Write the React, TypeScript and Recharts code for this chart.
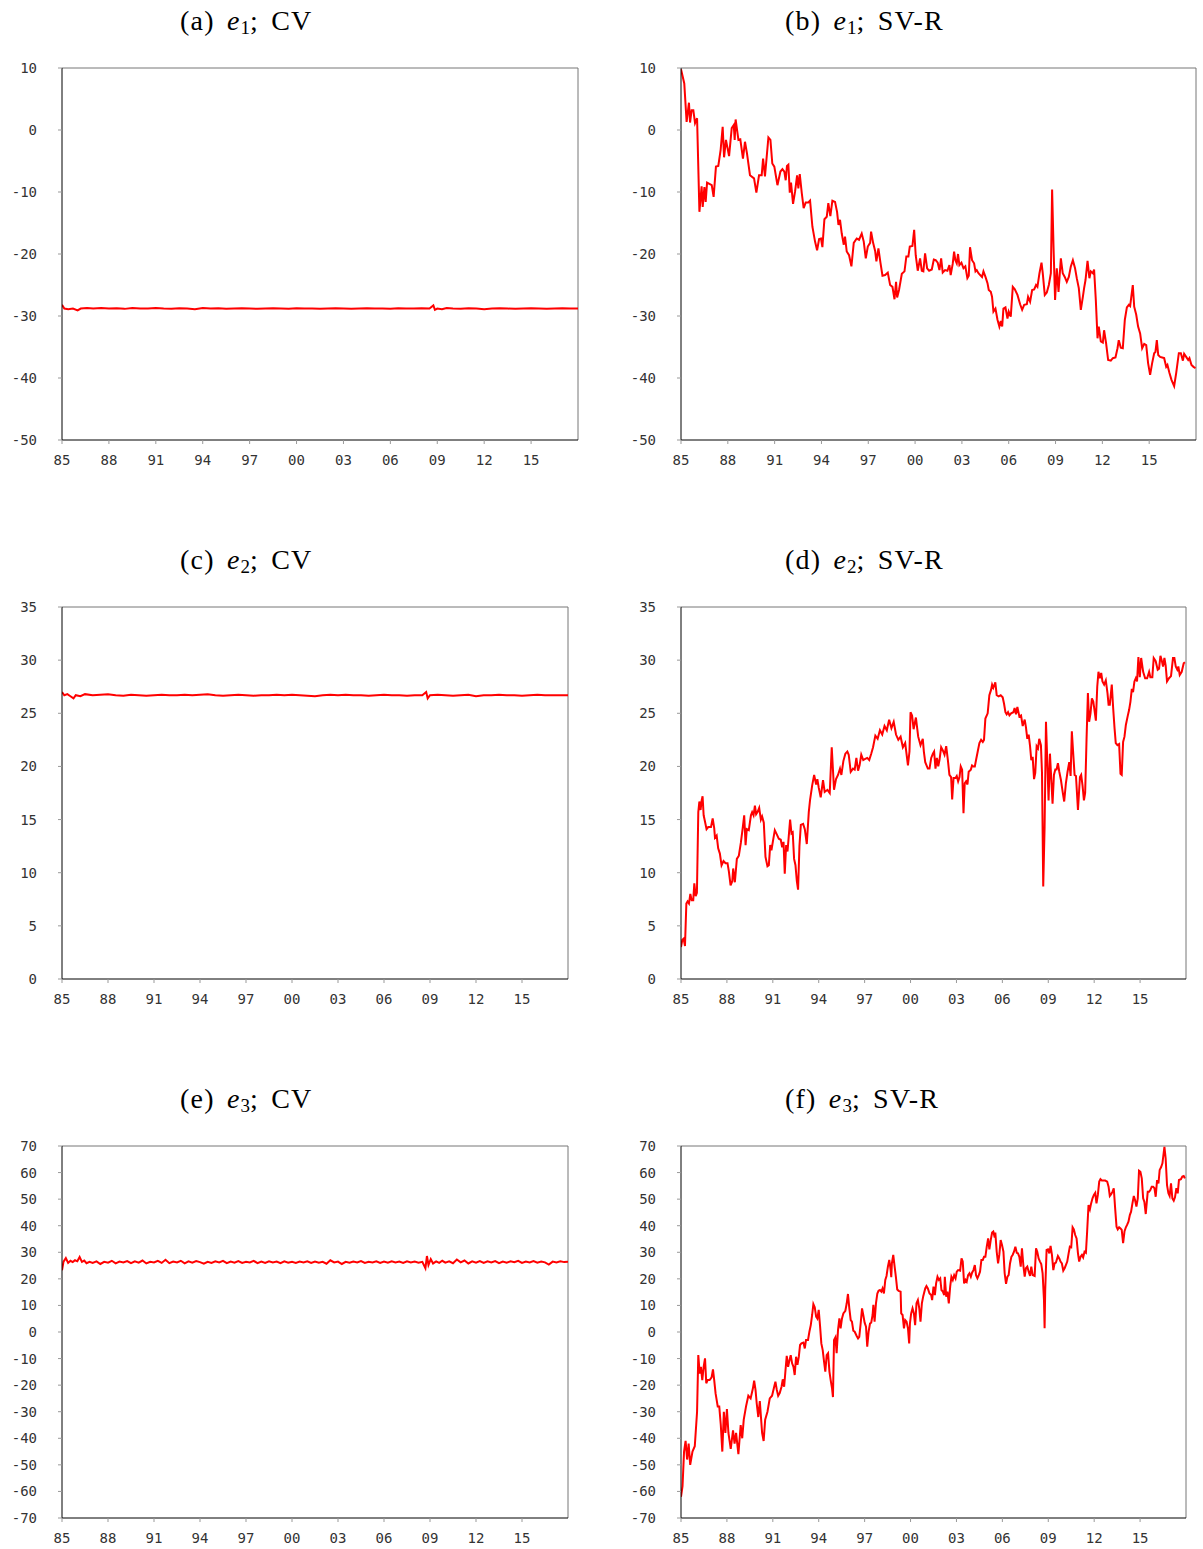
import { LineChart, Line, XAxis, YAxis, ReferenceLine } from "recharts";

const yearTicks = [1985, 1988, 1991, 1994, 1997, 2000, 2003, 2006, 2009, 2012, 2015];
const e1Ticks = [-50, -40, -30, -20, -10, 0, 10];
const e2Ticks = [0, 5, 10, 15, 20, 25, 30, 35];
const e3Ticks = [-70, -60, -50, -40, -30, -20, -10, 0, 10, 20, 30, 40, 50, 60, 70];

// [year, value]
const e1Cv: [number, number][] = [
  [1985.0, -28.2], [1985.15, -28.8], [1985.4, -28.9], [1985.7, -28.8], [1986.0, -29.1], [1986.2, -28.8],
  [1986.6, -28.7], [1987.0, -28.8], [1987.5, -28.7], [1988.0, -28.8], [1988.5, -28.75], [1989.0, -28.85],
  [1989.5, -28.7], [1990.0, -28.8], [1990.5, -28.8], [1991.0, -28.7], [1991.5, -28.8], [1992.0, -28.85],
  [1992.5, -28.75], [1993.0, -28.8], [1993.5, -28.9], [1994.0, -28.7], [1994.5, -28.8], [1995.0, -28.75],
  [1995.5, -28.85], [1996.0, -28.8], [1996.5, -28.75], [1997.0, -28.8], [1997.5, -28.85], [1998.0, -28.8],
  [1998.5, -28.75], [1999.0, -28.8], [1999.5, -28.85], [2000.0, -28.75], [2000.5, -28.8], [2001.0, -28.8],
  [2001.5, -28.85], [2002.0, -28.8], [2002.5, -28.75], [2003.0, -28.8], [2003.5, -28.85], [2004.0, -28.8],
  [2004.5, -28.75], [2005.0, -28.8], [2005.5, -28.8], [2006.0, -28.85], [2006.5, -28.75], [2007.0, -28.8],
  [2007.5, -28.8], [2008.0, -28.75], [2008.5, -28.8], [2008.75, -28.3], [2008.85, -29.0], [2009.0, -28.8],
  [2009.3, -28.9], [2009.6, -28.7], [2010.0, -28.8], [2010.5, -28.85], [2011.0, -28.75], [2011.5, -28.8],
  [2012.0, -28.9], [2012.5, -28.8], [2013.0, -28.75], [2013.5, -28.8], [2014.0, -28.85], [2014.5, -28.8],
  [2015.0, -28.75], [2015.5, -28.8], [2016.0, -28.85], [2016.5, -28.8], [2017.0, -28.75], [2017.5, -28.8],
  [2018.0, -28.8],
];

const e1Svr: [number, number][] = [
  [1985.0, 9.8], [1985.21, 7.5], [1985.36, 1.3], [1985.51, 4.4], [1985.58, 1.2], [1985.68, 3.2], [1985.79, 3.2],
  [1985.9, 1.1], [1986.03, 1.9], [1986.18, -13.2], [1986.32, -9.1], [1986.39, -12.4], [1986.5, -9.2],
  [1986.58, -11.6], [1986.67, -8.5], [1986.97, -8.9], [1987.09, -10.8], [1987.24, -5.9], [1987.39, -5.8],
  [1987.54, -3.2], [1987.67, 0.5], [1987.76, -4.4], [1987.88, -1.6], [1988.08, -4.2], [1988.25, 0.3],
  [1988.38, 0.8], [1988.44, -1.6], [1988.5, 1.7], [1988.68, -1.6], [1988.8, -1.5], [1988.97, -4.6],
  [1989.1, -1.9], [1989.23, -3.8], [1989.42, -7.3], [1989.68, -7.8], [1989.83, -10.1], [1990.0, -7.3],
  [1990.17, -7.3], [1990.26, -4.6], [1990.38, -7.5], [1990.6, -1.2], [1990.73, -1.6], [1990.85, -5.4],
  [1990.98, -5.9], [1991.18, -8.9], [1991.37, -6.7], [1991.5, -6.3], [1991.62, -6.7], [1991.71, -8.1],
  [1991.79, -5.8], [1991.88, -5.6], [1991.97, -10.1], [1992.05, -8.5], [1992.18, -11.9], [1992.31, -9.9],
  [1992.44, -7.3], [1992.52, -9.4], [1992.61, -7.1], [1992.74, -10.2], [1992.86, -12.6], [1992.99, -11.7],
  [1993.16, -11.7], [1993.27, -11.4], [1993.42, -15.6], [1993.59, -18.0], [1993.72, -19.4], [1993.85, -17.6],
  [1993.97, -17.5], [1994.06, -18.9], [1994.19, -14.4], [1994.34, -14.0], [1994.44, -11.8], [1994.57, -13.9],
  [1994.7, -11.4], [1994.87, -11.6], [1995.0, -13.2], [1995.09, -15.3], [1995.19, -14.5], [1995.3, -16.7],
  [1995.43, -18.5], [1995.51, -17.2], [1995.62, -19.6], [1995.77, -20.2], [1995.92, -22.0], [1996.07, -18.2],
  [1996.26, -17.5], [1996.41, -17.7], [1996.58, -16.7], [1996.71, -18.0], [1996.84, -20.7], [1996.97, -18.8],
  [1997.12, -18.2], [1997.18, -16.4], [1997.31, -18.2], [1997.44, -19.5], [1997.52, -21.2], [1997.65, -19.1],
  [1997.78, -21.4], [1997.91, -23.5], [1998.08, -23.4], [1998.25, -23.0], [1998.4, -25.0], [1998.55, -25.3],
  [1998.68, -27.3], [1998.78, -24.5], [1998.85, -27.0], [1998.97, -25.8], [1999.15, -23.2], [1999.32, -22.8],
  [1999.44, -20.4], [1999.57, -20.4], [1999.66, -18.8], [1999.83, -18.7], [1999.94, -16.1], [2000.04, -20.2],
  [2000.17, -22.7], [2000.32, -20.7], [2000.43, -22.7], [2000.53, -22.8], [2000.64, -19.9], [2000.77, -22.3],
  [2000.9, -22.7], [2001.07, -22.5], [2001.2, -20.9], [2001.32, -21.0], [2001.45, -21.4], [2001.56, -22.6],
  [2001.67, -20.7], [2001.77, -23.0], [2001.92, -22.6], [2002.07, -22.7], [2002.2, -21.8], [2002.28, -23.4],
  [2002.41, -21.6], [2002.5, -19.6], [2002.58, -21.0], [2002.67, -21.5], [2002.75, -20.0], [2002.84, -21.8],
  [2002.97, -21.4], [2003.1, -22.3], [2003.22, -22.0], [2003.35, -23.9], [2003.44, -23.5], [2003.52, -18.9],
  [2003.65, -21.0], [2003.78, -21.5], [2003.87, -22.8], [2003.95, -22.6], [2004.06, -23.1], [2004.17, -23.4],
  [2004.29, -23.7], [2004.38, -22.8], [2004.51, -23.7], [2004.64, -24.7], [2004.72, -25.8], [2004.85, -26.1],
  [2004.93, -26.9], [2005.02, -29.3], [2005.15, -28.8], [2005.28, -30.6], [2005.4, -31.7], [2005.49, -30.8],
  [2005.58, -31.7], [2005.66, -28.8], [2005.79, -28.6], [2005.92, -30.4], [2006.0, -29.3], [2006.13, -30.1],
  [2006.26, -25.3], [2006.39, -25.7], [2006.56, -26.6], [2006.73, -28.1], [2006.86, -29.0], [2006.99, -28.2],
  [2007.16, -28.1], [2007.24, -26.9], [2007.37, -27.7], [2007.5, -25.8], [2007.63, -25.7], [2007.75, -25.0],
  [2007.84, -25.3], [2007.97, -23.1], [2008.1, -21.4], [2008.18, -23.1], [2008.31, -26.6], [2008.44, -26.2],
  [2008.57, -25.0], [2008.7, -23.1], [2008.78, -9.6], [2008.87, -18.8], [2008.97, -27.4], [2009.08, -22.3],
  [2009.19, -26.1], [2009.34, -20.7], [2009.46, -23.1], [2009.59, -23.7], [2009.72, -24.5], [2009.85, -23.7],
  [2009.98, -22.0], [2010.11, -21.0], [2010.25, -22.3], [2010.36, -23.9], [2010.49, -25.5], [2010.62, -29.0],
  [2010.75, -26.9], [2010.83, -25.5], [2010.92, -24.2], [2011.05, -21.1], [2011.17, -23.9], [2011.26, -22.8],
  [2011.39, -23.1], [2011.47, -22.5], [2011.58, -27.4], [2011.69, -33.6], [2011.77, -31.7], [2011.9, -34.1],
  [2012.03, -34.3], [2012.11, -32.3], [2012.24, -34.4], [2012.37, -37.1], [2012.54, -37.2], [2012.67, -36.8],
  [2012.84, -36.7], [2012.97, -35.2], [2013.05, -33.9], [2013.18, -35.1], [2013.31, -35.2], [2013.44, -30.6],
  [2013.57, -28.6], [2013.7, -28.2], [2013.78, -28.4], [2013.87, -26.6], [2013.95, -25.0], [2014.04, -28.5],
  [2014.17, -29.8], [2014.29, -31.7], [2014.42, -32.8], [2014.55, -35.2], [2014.68, -34.5], [2014.81, -34.7],
  [2014.93, -37.6], [2015.06, -39.5], [2015.19, -37.6], [2015.32, -36.0], [2015.4, -35.8], [2015.49, -33.9],
  [2015.58, -36.3], [2015.7, -36.6], [2015.83, -36.7], [2015.96, -36.8], [2016.09, -38.2], [2016.17, -37.9],
  [2016.3, -39.2], [2016.43, -40.3], [2016.6, -41.3], [2016.73, -39.2], [2016.9, -36.0], [2017.03, -36.0],
  [2017.16, -37.2], [2017.24, -36.1], [2017.37, -36.6], [2017.5, -37.1], [2017.58, -36.8], [2017.71, -37.9],
  [2017.84, -38.2], [2017.97, -38.4],
];

const e2Cv: [number, number][] = [
  [1985.0, 27.0], [1985.15, 26.7], [1985.35, 26.8], [1985.55, 26.6], [1985.75, 26.4], [1985.9, 26.7],
  [1986.2, 26.6], [1986.5, 26.8], [1987.0, 26.7], [1987.5, 26.75], [1988.0, 26.8], [1988.5, 26.7],
  [1989.0, 26.65], [1989.5, 26.75], [1990.0, 26.7], [1990.5, 26.65], [1991.0, 26.7], [1991.5, 26.75],
  [1992.0, 26.7], [1992.5, 26.7], [1993.0, 26.75], [1993.5, 26.7], [1994.0, 26.75], [1994.5, 26.8],
  [1995.0, 26.7], [1995.5, 26.65], [1996.0, 26.7], [1996.5, 26.75], [1997.0, 26.7], [1997.5, 26.65],
  [1998.0, 26.7], [1998.5, 26.7], [1999.0, 26.75], [1999.5, 26.7], [2000.0, 26.75], [2000.5, 26.7],
  [2001.0, 26.65], [2001.5, 26.6], [2002.0, 26.7], [2002.5, 26.75], [2003.0, 26.7], [2003.5, 26.75],
  [2004.0, 26.7], [2004.5, 26.7], [2005.0, 26.65], [2005.5, 26.7], [2006.0, 26.75], [2006.5, 26.7],
  [2007.0, 26.7], [2007.5, 26.65], [2008.0, 26.7], [2008.5, 26.7], [2008.75, 27.0], [2008.85, 26.4],
  [2009.0, 26.7], [2009.5, 26.75], [2010.0, 26.7], [2010.5, 26.65], [2011.0, 26.7], [2011.5, 26.75],
  [2012.0, 26.6], [2012.5, 26.7], [2013.0, 26.7], [2013.5, 26.75], [2014.0, 26.7], [2014.5, 26.7],
  [2015.0, 26.65], [2015.5, 26.7], [2016.0, 26.75], [2016.5, 26.7], [2017.0, 26.7], [2017.5, 26.7],
  [2018.0, 26.7],
];

const e2Svr: [number, number][] = [
  [1985.0, 3.0], [1985.09, 3.7], [1985.17, 3.8], [1985.26, 3.1], [1985.35, 7.1], [1985.43, 7.3], [1985.52, 7.1],
  [1985.61, 8.0], [1985.7, 7.4], [1985.8, 7.4], [1985.87, 9.0], [1985.96, 7.8], [1986.04, 8.1], [1986.13, 15.7],
  [1986.2, 16.7], [1986.28, 15.9], [1986.35, 16.8], [1986.41, 17.2], [1986.48, 15.4], [1986.57, 14.8],
  [1986.67, 14.1], [1986.78, 14.3], [1986.96, 14.3], [1987.07, 15.1], [1987.17, 14.2], [1987.22, 13.3],
  [1987.33, 13.5], [1987.43, 12.3], [1987.54, 11.8], [1987.65, 10.7], [1987.78, 11.1], [1987.91, 10.9],
  [1988.04, 10.9], [1988.13, 10.1], [1988.24, 8.8], [1988.35, 9.2], [1988.41, 10.4], [1988.52, 9.1],
  [1988.65, 11.3], [1988.78, 11.6], [1988.91, 12.8], [1989.04, 14.3], [1989.13, 15.4], [1989.22, 12.6],
  [1989.3, 14.1], [1989.43, 14.0], [1989.57, 15.4], [1989.65, 15.7], [1989.74, 15.4], [1989.83, 16.3],
  [1989.91, 15.5], [1990.0, 15.7], [1990.11, 16.1], [1990.22, 15.0], [1990.3, 15.3], [1990.41, 14.7],
  [1990.52, 11.5], [1990.65, 10.6], [1990.74, 10.7], [1990.83, 12.6], [1990.91, 12.1], [1991.0, 12.9],
  [1991.13, 14.0], [1991.26, 13.6], [1991.39, 13.2], [1991.52, 13.1], [1991.61, 12.4], [1991.7, 12.9],
  [1991.78, 9.9], [1991.87, 12.6], [1991.96, 12.0], [1992.04, 13.4], [1992.13, 15.0], [1992.22, 13.7],
  [1992.3, 13.8], [1992.39, 11.3], [1992.48, 10.7], [1992.57, 9.2], [1992.65, 8.4], [1992.74, 12.5],
  [1992.83, 14.5], [1992.98, 14.6], [1993.09, 14.1], [1993.22, 12.7], [1993.35, 15.7], [1993.43, 16.8],
  [1993.57, 18.2], [1993.7, 19.2], [1993.83, 18.3], [1993.91, 18.8], [1994.0, 18.0], [1994.13, 17.1],
  [1994.28, 18.7], [1994.39, 17.6], [1994.57, 17.8], [1994.72, 17.5], [1994.85, 21.8], [1995.0, 17.8],
  [1995.13, 18.8], [1995.26, 19.2], [1995.39, 19.8], [1995.48, 19.2], [1995.61, 20.5], [1995.74, 21.2],
  [1995.87, 21.4], [1995.96, 21.1], [1996.09, 19.5], [1996.24, 19.8], [1996.35, 19.7], [1996.46, 20.8],
  [1996.57, 19.6], [1996.67, 20.1], [1996.78, 21.1], [1996.91, 20.6], [1997.04, 20.7], [1997.17, 20.8],
  [1997.3, 20.6], [1997.43, 21.2], [1997.55, 21.8], [1997.7, 22.9], [1997.85, 22.6], [1998.0, 23.4],
  [1998.15, 23.0], [1998.3, 23.8], [1998.45, 23.4], [1998.6, 24.4], [1998.75, 23.6], [1998.9, 24.2],
  [1999.05, 23.0], [1999.2, 22.5], [1999.35, 22.8], [1999.5, 21.8], [1999.65, 22.2], [1999.83, 20.1],
  [1999.93, 21.4], [2000.0, 25.1], [2000.1, 24.8], [2000.2, 23.5], [2000.35, 24.6], [2000.5, 22.8],
  [2000.65, 22.0], [2000.8, 22.6], [2000.87, 21.4], [2000.96, 20.4], [2001.13, 19.8], [2001.24, 19.8],
  [2001.35, 20.8], [2001.46, 21.2], [2001.54, 21.4], [2001.63, 19.8], [2001.72, 20.8], [2001.81, 20.0],
  [2001.89, 20.6], [2002.0, 21.8], [2002.11, 21.5], [2002.22, 21.1], [2002.33, 21.9], [2002.44, 20.6],
  [2002.54, 19.2], [2002.65, 19.0], [2002.72, 16.9], [2002.81, 18.9], [2002.94, 18.9], [2003.02, 19.1],
  [2003.11, 18.6], [2003.2, 19.0], [2003.28, 20.0], [2003.37, 19.7], [2003.46, 15.6], [2003.54, 18.4],
  [2003.63, 18.6], [2003.72, 18.3], [2003.8, 19.5], [2003.94, 19.7], [2004.02, 20.1], [2004.11, 20.0],
  [2004.2, 20.0], [2004.28, 20.6], [2004.39, 21.4], [2004.5, 22.2], [2004.61, 22.5], [2004.72, 22.3],
  [2004.8, 22.5], [2004.89, 24.5], [2005.04, 25.0], [2005.15, 26.7], [2005.26, 27.2], [2005.33, 27.7],
  [2005.41, 27.4], [2005.54, 27.9], [2005.63, 26.7], [2005.76, 26.6], [2005.89, 26.7], [2006.02, 26.5],
  [2006.11, 25.9], [2006.2, 25.1], [2006.28, 24.9], [2006.37, 25.1], [2006.46, 24.8], [2006.57, 25.0],
  [2006.72, 25.1], [2006.8, 25.5], [2006.89, 24.9], [2006.98, 25.6], [2007.11, 24.7], [2007.22, 24.8],
  [2007.33, 23.8], [2007.46, 24.4], [2007.54, 23.7], [2007.63, 22.6], [2007.72, 23.0], [2007.81, 21.9],
  [2007.89, 20.6], [2007.98, 20.9], [2008.07, 18.8], [2008.15, 19.4], [2008.24, 21.9], [2008.33, 21.7],
  [2008.41, 22.6], [2008.52, 22.0], [2008.59, 19.4], [2008.67, 8.7], [2008.76, 14.3], [2008.85, 24.2],
  [2008.96, 19.4], [2009.02, 16.8], [2009.11, 21.2], [2009.2, 18.7], [2009.28, 16.5], [2009.37, 19.2],
  [2009.46, 19.7], [2009.54, 19.7], [2009.63, 20.3], [2009.72, 19.5], [2009.83, 18.7], [2009.94, 17.6],
  [2010.04, 16.7], [2010.15, 18.4], [2010.26, 19.5], [2010.37, 20.4], [2010.46, 19.1], [2010.54, 23.3],
  [2010.63, 21.2], [2010.72, 19.2], [2010.81, 19.1], [2010.94, 15.9], [2011.07, 19.0], [2011.15, 19.2],
  [2011.24, 18.2], [2011.33, 16.8], [2011.41, 17.5], [2011.5, 22.5], [2011.59, 26.9], [2011.67, 24.2],
  [2011.76, 25.0], [2011.85, 26.4], [2011.94, 26.1], [2012.02, 25.3], [2012.11, 24.3], [2012.2, 27.5],
  [2012.28, 28.9], [2012.37, 28.3], [2012.46, 28.8], [2012.54, 28.0], [2012.65, 27.7], [2012.76, 28.1],
  [2012.87, 26.9], [2012.94, 25.8], [2013.02, 25.8], [2013.15, 27.7], [2013.24, 25.5], [2013.33, 23.6],
  [2013.41, 22.2], [2013.52, 22.0], [2013.63, 22.1], [2013.72, 19.3], [2013.8, 19.2], [2013.89, 22.3],
  [2013.98, 22.8], [2014.07, 23.9], [2014.2, 24.8], [2014.28, 25.3], [2014.37, 26.1], [2014.46, 27.3],
  [2014.54, 27.0], [2014.63, 28.0], [2014.72, 28.3], [2014.8, 28.0], [2014.89, 30.3], [2014.98, 28.4],
  [2015.07, 30.2], [2015.2, 28.9], [2015.33, 28.3], [2015.46, 28.3], [2015.59, 28.9], [2015.67, 28.4],
  [2015.8, 28.4], [2015.89, 30.2], [2016.02, 29.9], [2016.15, 29.1], [2016.24, 29.2], [2016.33, 30.4],
  [2016.41, 30.0], [2016.5, 29.4], [2016.59, 30.2], [2016.67, 29.5], [2016.76, 28.0], [2016.89, 28.3],
  [2017.02, 28.5], [2017.15, 30.2], [2017.24, 30.2], [2017.33, 29.4], [2017.43, 29.1], [2017.5, 29.4],
  [2017.59, 28.6], [2017.72, 28.9], [2017.85, 29.7], [2017.93, 29.8],
];

const e3Cv: [number, number][] = [
  [1985.0, 23.2], [1985.1, 26.5], [1985.25, 27.8], [1985.4, 26.0], [1985.55, 26.8], [1985.7, 26.3],
  [1985.85, 27.0], [1986.0, 26.6], [1986.15, 28.2], [1986.3, 26.4], [1986.45, 26.9], [1986.6, 25.9],
  [1986.8, 26.4], [1987.0, 26.0], [1987.25, 26.6], [1987.5, 25.6], [1987.75, 26.4], [1988.0, 26.1],
  [1988.25, 26.8], [1988.5, 25.8], [1988.75, 26.5], [1989.0, 26.2], [1989.25, 26.7], [1989.5, 25.9],
  [1989.75, 26.6], [1990.0, 26.1], [1990.25, 26.9], [1990.5, 25.8], [1990.75, 26.4], [1991.0, 26.2],
  [1991.25, 26.8], [1991.5, 26.0], [1991.75, 27.2], [1992.0, 25.9], [1992.25, 26.5], [1992.5, 26.2],
  [1992.75, 26.8], [1993.0, 25.8], [1993.25, 26.6], [1993.5, 26.1], [1993.75, 26.7], [1994.0, 26.3],
  [1994.25, 25.7], [1994.5, 26.4], [1994.75, 26.0], [1995.0, 26.6], [1995.25, 26.2], [1995.5, 26.8],
  [1995.75, 25.9], [1996.0, 26.5], [1996.25, 26.1], [1996.5, 26.7], [1996.75, 26.0], [1997.0, 26.4],
  [1997.25, 26.2], [1997.5, 26.8], [1997.75, 25.9], [1998.0, 26.5], [1998.25, 26.0], [1998.5, 26.6],
  [1998.75, 26.2], [1999.0, 26.5], [1999.25, 25.9], [1999.5, 26.6], [1999.75, 26.1], [2000.0, 26.4],
  [2000.25, 26.0], [2000.5, 26.5], [2000.75, 26.2], [2001.0, 26.6], [2001.25, 26.0], [2001.5, 26.5],
  [2001.75, 26.1], [2002.0, 26.4], [2002.25, 25.7], [2002.5, 27.0], [2002.75, 26.2], [2003.0, 26.5],
  [2003.25, 25.6], [2003.5, 26.4], [2003.75, 26.1], [2004.0, 26.5], [2004.25, 26.2], [2004.5, 26.7],
  [2004.75, 26.0], [2005.0, 26.4], [2005.25, 26.2], [2005.5, 26.6], [2005.75, 26.0], [2006.0, 26.5],
  [2006.25, 26.1], [2006.5, 26.6], [2006.75, 26.2], [2007.0, 26.5], [2007.25, 26.0], [2007.5, 26.6],
  [2007.75, 26.2], [2008.0, 26.5], [2008.25, 26.1], [2008.5, 26.4], [2008.7, 24.0], [2008.8, 28.6],
  [2008.9, 25.2], [2009.05, 27.4], [2009.2, 25.8], [2009.4, 26.6], [2009.6, 26.0], [2009.8, 26.8],
  [2010.0, 26.1], [2010.25, 26.6], [2010.5, 25.9], [2010.75, 27.3], [2011.0, 26.2], [2011.25, 26.9],
  [2011.5, 25.8], [2011.75, 26.6], [2012.0, 26.1], [2012.25, 26.7], [2012.5, 26.0], [2012.75, 26.6],
  [2013.0, 26.2], [2013.25, 26.7], [2013.5, 25.9], [2013.75, 26.5], [2014.0, 26.1], [2014.25, 26.6],
  [2014.5, 26.3], [2014.75, 26.8], [2015.0, 26.0], [2015.25, 26.5], [2015.5, 26.2], [2015.75, 26.7],
  [2016.0, 26.1], [2016.25, 26.5], [2016.5, 26.2], [2016.75, 25.4], [2017.0, 26.5], [2017.25, 26.2],
  [2017.5, 26.6], [2017.75, 26.3], [2018.0, 26.4],
];

const e3Svr: [number, number][] = [
  [1985.0, -62.0], [1985.1, -58.0], [1985.2, -45.0], [1985.3, -41.0], [1985.4, -48.0], [1985.5, -42.0],
  [1985.6, -50.0], [1985.75, -45.0], [1985.9, -43.0], [1986.05, -30.0], [1986.13, -8.7], [1986.22, -15.6],
  [1986.3, -13.1], [1986.39, -18.1], [1986.48, -13.1], [1986.57, -9.9], [1986.65, -19.3], [1986.74, -18.1],
  [1986.87, -18.1], [1987.0, -17.1], [1987.09, -14.1], [1987.17, -18.1], [1987.26, -23.1], [1987.4, -28.0],
  [1987.5, -28.0], [1987.6, -35.0], [1987.7, -45.0], [1987.8, -30.0], [1987.9, -38.0], [1988.0, -29.0],
  [1988.1, -38.0], [1988.25, -44.0], [1988.4, -37.0], [1988.5, -42.0], [1988.6, -38.0], [1988.75, -46.0],
  [1988.9, -35.0], [1989.0, -40.0], [1989.1, -33.0], [1989.25, -28.0], [1989.4, -24.0], [1989.55, -25.0],
  [1989.7, -21.2], [1989.78, -18.3], [1989.87, -21.8], [1989.95, -27.0], [1990.05, -32.0], [1990.15, -26.0],
  [1990.3, -38.0], [1990.4, -41.0], [1990.5, -33.0], [1990.65, -30.0], [1990.8, -25.0], [1990.95, -24.0],
  [1991.09, -20.6], [1991.17, -18.7], [1991.26, -21.8], [1991.35, -24.0], [1991.45, -23.0], [1991.57, -20.6],
  [1991.65, -17.8], [1991.74, -20.6], [1991.83, -14.3], [1991.91, -9.0], [1992.0, -13.1], [1992.09, -10.6],
  [1992.17, -8.7], [1992.26, -11.8], [1992.35, -13.1], [1992.43, -16.2], [1992.52, -9.3], [1992.61, -12.4],
  [1992.7, -9.3], [1992.78, -4.9], [1992.87, -4.3], [1993.0, -4.0], [1993.09, -6.2], [1993.17, -3.0],
  [1993.3, -3.0], [1993.39, 0.1], [1993.48, 2.6], [1993.57, 6.4], [1993.65, 10.5], [1993.74, 9.3],
  [1993.83, 5.8], [1993.91, 5.1], [1994.0, 8.3], [1994.09, 2.0], [1994.17, -4.3], [1994.26, -6.8],
  [1994.35, -11.2], [1994.43, -14.9], [1994.52, -8.7], [1994.61, -8.0], [1994.7, -14.9], [1994.78, -18.1],
  [1994.87, -21.2], [1994.93, -24.5], [1995.0, -3.0], [1995.09, -2.0], [1995.17, -8.0], [1995.26, 0.7],
  [1995.35, 5.1], [1995.43, 1.4], [1995.52, 5.1], [1995.61, 7.0], [1995.74, 8.0], [1995.83, 10.8],
  [1995.91, 14.3], [1996.0, 8.9], [1996.09, 4.5], [1996.17, 3.9], [1996.26, 0.5], [1996.35, 0.1],
  [1996.48, -1.5], [1996.57, -2.4], [1996.65, -1.8], [1996.74, 3.2], [1996.83, 8.9], [1996.91, 6.4],
  [1997.0, 3.5], [1997.09, 2.0], [1997.17, -5.5], [1997.26, 0.1], [1997.35, 3.2], [1997.43, 3.5],
  [1997.52, 6.4], [1997.57, 10.2], [1997.65, 3.9], [1997.74, 10.8], [1997.83, 14.5], [1997.91, 15.5],
  [1998.0, 15.8], [1998.09, 15.2], [1998.17, 16.4], [1998.26, 14.5], [1998.35, 19.6], [1998.43, 21.1],
  [1998.52, 24.6], [1998.61, 27.1], [1998.7, 23.3], [1998.74, 20.6], [1998.78, 25.8], [1998.87, 29.0],
  [1998.96, 24.6], [1999.04, 20.8], [1999.13, 16.0], [1999.22, 15.5], [1999.35, 15.2], [1999.39, 7.0],
  [1999.48, 6.4], [1999.57, 1.4], [1999.65, 4.5], [1999.74, 3.9], [1999.83, 1.4], [1999.91, -4.3],
  [1999.96, 3.2], [2000.04, 7.0], [2000.13, 8.9], [2000.22, 7.0], [2000.3, 2.6], [2000.39, 10.8],
  [2000.48, 12.0], [2000.57, 8.9], [2000.65, 3.9], [2000.74, 10.8], [2000.83, 13.5], [2000.96, 16.4],
  [2001.04, 17.3], [2001.13, 16.4], [2001.24, 14.5], [2001.35, 13.9], [2001.41, 12.0], [2001.5, 17.1],
  [2001.59, 13.9], [2001.67, 18.3], [2001.76, 20.8], [2001.85, 19.6], [2001.94, 20.2], [2002.02, 15.8],
  [2002.11, 15.2], [2002.2, 13.9], [2002.24, 20.8], [2002.33, 13.3], [2002.41, 15.2], [2002.5, 10.8],
  [2002.59, 17.1], [2002.67, 20.8], [2002.76, 19.6], [2002.85, 21.4], [2002.94, 20.2], [2003.02, 22.7],
  [2003.11, 23.3], [2003.24, 23.1], [2003.33, 27.7], [2003.41, 26.5], [2003.5, 18.3], [2003.59, 19.6],
  [2003.67, 18.9], [2003.76, 21.4], [2003.85, 22.1], [2003.94, 20.8], [2004.02, 22.3], [2004.11, 23.3],
  [2004.2, 25.2], [2004.28, 21.4], [2004.37, 20.2], [2004.46, 21.4], [2004.54, 22.7], [2004.63, 27.1],
  [2004.72, 27.1], [2004.8, 28.3], [2004.89, 28.3], [2004.98, 32.1], [2005.07, 35.2], [2005.15, 31.1],
  [2005.24, 34.6], [2005.33, 37.4], [2005.41, 37.8], [2005.5, 35.6], [2005.54, 37.4], [2005.63, 30.2],
  [2005.72, 25.8], [2005.8, 29.0], [2005.89, 34.6], [2005.98, 32.7], [2006.07, 30.2], [2006.15, 22.1],
  [2006.24, 18.1], [2006.33, 20.8], [2006.41, 21.4], [2006.5, 25.8], [2006.59, 28.3], [2006.67, 29.0],
  [2006.76, 30.2], [2006.85, 32.1], [2006.94, 29.8], [2007.02, 29.6], [2007.11, 28.3], [2007.2, 24.6],
  [2007.28, 31.5], [2007.37, 25.2], [2007.46, 20.8], [2007.54, 24.0], [2007.63, 24.6], [2007.72, 22.7],
  [2007.81, 21.1], [2007.89, 24.6], [2007.98, 21.4], [2008.11, 21.1], [2008.2, 31.5], [2008.28, 30.2],
  [2008.37, 27.7], [2008.46, 26.5], [2008.54, 25.6], [2008.63, 22.1], [2008.72, 12.0], [2008.76, 1.4],
  [2008.8, 15.8], [2008.89, 30.9], [2008.98, 31.1], [2009.07, 29.6], [2009.15, 32.4], [2009.24, 29.0],
  [2009.33, 23.3], [2009.41, 25.8], [2009.5, 26.1], [2009.63, 28.6], [2009.72, 27.7], [2009.8, 26.5],
  [2009.89, 25.8], [2009.98, 23.1], [2010.07, 24.0], [2010.15, 25.2], [2010.24, 26.5], [2010.33, 29.6],
  [2010.41, 32.1], [2010.5, 31.9], [2010.59, 39.4], [2010.67, 38.6], [2010.76, 36.5], [2010.85, 35.2],
  [2010.94, 29.6], [2011.02, 26.5], [2011.11, 28.3], [2011.2, 29.0], [2011.28, 28.1], [2011.37, 30.2],
  [2011.46, 29.8], [2011.54, 37.8], [2011.63, 47.8], [2011.72, 46.2], [2011.8, 48.4], [2011.89, 50.3],
  [2011.98, 51.6], [2012.07, 52.4], [2012.15, 48.4], [2012.24, 51.6], [2012.33, 56.6], [2012.41, 57.5],
  [2012.5, 57.0], [2012.59, 57.0], [2012.72, 57.0], [2012.85, 56.6], [2012.94, 54.7], [2013.02, 51.2],
  [2013.11, 51.9], [2013.2, 52.8], [2013.28, 54.1], [2013.37, 46.5], [2013.46, 39.6], [2013.54, 38.6],
  [2013.63, 39.4], [2013.72, 39.0], [2013.8, 38.4], [2013.89, 33.4], [2013.98, 37.8], [2014.07, 39.4],
  [2014.15, 40.3], [2014.24, 41.5], [2014.33, 44.0], [2014.41, 45.3], [2014.5, 48.4], [2014.59, 51.2],
  [2014.67, 49.7], [2014.76, 47.2], [2014.85, 50.3], [2014.93, 60.7], [2015.02, 60.3], [2015.11, 57.8],
  [2015.2, 50.3], [2015.28, 49.0], [2015.37, 44.4], [2015.46, 50.3], [2015.5, 52.8], [2015.59, 52.8],
  [2015.67, 53.4], [2015.76, 54.7], [2015.85, 54.7], [2015.94, 54.1], [2016.02, 50.9], [2016.11, 57.2],
  [2016.2, 55.9], [2016.28, 61.0], [2016.37, 62.0], [2016.46, 63.5], [2016.59, 69.7], [2016.67, 65.4],
  [2016.76, 55.3], [2016.85, 52.2], [2016.93, 51.2], [2017.02, 55.9], [2017.11, 50.3], [2017.2, 49.4],
  [2017.28, 50.7], [2017.37, 54.1], [2017.46, 52.2], [2017.54, 57.2], [2017.67, 57.5], [2017.76, 58.5],
  [2017.85, 58.7], [2017.93, 57.8],
];

const tickStyle = { fill: "#333", fontSize: 14, fontFamily: "'DejaVu Sans Mono', monospace" };

type PanelProps = {
  title: string;
  sub: string;
  model: string;
  series: [number, number][];
  left: number;
  top: number;
  w: number;
  h: number;
  yTicks: number[];
  titleLeft: number;
  titleTop: number;
};

function Panel({ title, sub, model, series, left, top, w, h, yTicks, titleLeft, titleTop }: PanelProps) {
  const data = series.map(([t, v]) => ({ t, v }));
  const yMin = yTicks[0];
  const yMax = yTicks[yTicks.length - 1];
  return (
    <>
      <div
        style={{
          position: "absolute",
          left: titleLeft,
          top: titleTop,
          fontFamily: "'Liberation Serif', 'DejaVu Serif', serif",
          fontSize: 28,
          letterSpacing: 1.2,
          wordSpacing: 4,
          whiteSpace: "nowrap",
          color: "#000",
        }}
      >
        {title} <i>e</i>
        <sub style={{ fontSize: 19, verticalAlign: "-4px", letterSpacing: 0 }}>{sub}</sub>; {model}
      </div>
      <div style={{ position: "absolute", left: left - 62, top: top - 10 }}>
        <LineChart
          width={62 + w + 12}
          height={10 + h + 40}
          data={data}
          margin={{ top: 10, right: 12, left: 0, bottom: 0 }}
        >
          <XAxis
            dataKey="t"
            type="number"
            domain={[1985, 2018]}
            ticks={yearTicks}
            tickFormatter={(t: number) => String(t % 100).padStart(2, "0")}
            height={40}
            tick={tickStyle}
            tickSize={4}
            tickMargin={11}
            axisLine={{ stroke: "#000" }}
            tickLine={{ stroke: "#999" }}
            allowDataOverflow
          />
          <YAxis
            type="number"
            domain={[yMin, yMax]}
            ticks={yTicks}
            width={62}
            tick={tickStyle}
            tickSize={4}
            tickMargin={21}
            axisLine={{ stroke: "#000" }}
            tickLine={{ stroke: "#999" }}
            allowDataOverflow
          />
          <ReferenceLine y={yMax} stroke="#777" />
          <ReferenceLine x={2018} stroke="#777" />
          <Line
            type="linear"
            dataKey="v"
            stroke="#ff0000"
            strokeWidth={2}
            dot={false}
            isAnimationActive={false}
          />
        </LineChart>
      </div>
    </>
  );
}

export default function App() {
  return (
    <div style={{ position: "absolute", left: 0, top: 0, width: 1203, height: 1549, background: "#fff" }}>
      <Panel title="(a)" sub="1" model="CV" series={e1Cv} left={62} top={68} w={516} h={372} yTicks={e1Ticks} titleLeft={180} titleTop={5} />
      <Panel title="(b)" sub="1" model="SV-R" series={e1Svr} left={681} top={68} w={515} h={372} yTicks={e1Ticks} titleLeft={785} titleTop={5} />
      <Panel title="(c)" sub="2" model="CV" series={e2Cv} left={62} top={607} w={506} h={372} yTicks={e2Ticks} titleLeft={180} titleTop={544} />
      <Panel title="(d)" sub="2" model="SV-R" series={e2Svr} left={681} top={607} w={505} h={372} yTicks={e2Ticks} titleLeft={785} titleTop={544} />
      <Panel title="(e)" sub="3" model="CV" series={e3Cv} left={62} top={1146} w={506} h={372} yTicks={e3Ticks} titleLeft={180} titleTop={1083} />
      <Panel title="(f)" sub="3" model="SV-R" series={e3Svr} left={681} top={1146} w={505} h={372} yTicks={e3Ticks} titleLeft={785} titleTop={1083} />
    </div>
  );
}
